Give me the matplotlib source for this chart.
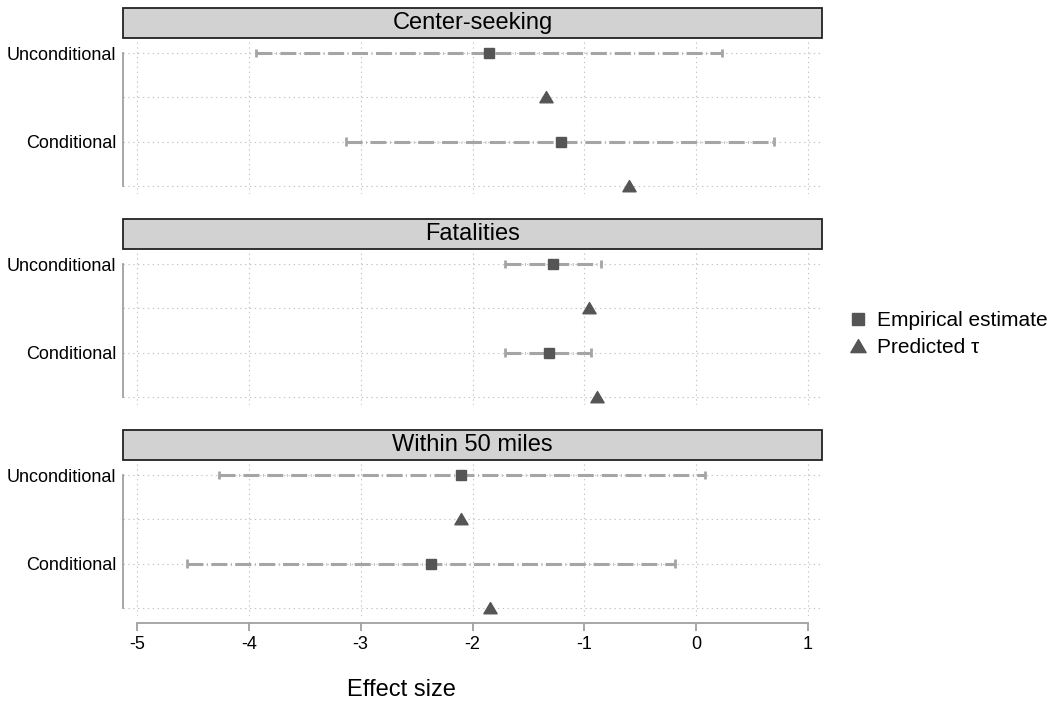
import matplotlib
matplotlib.use('Agg')
import matplotlib.pyplot as plt
from matplotlib.patches import Rectangle
from matplotlib.lines import Line2D
from matplotlib.path import Path

plt.rcParams['font.family'] = ['Liberation Sans', 'DejaVu Sans']
plt.rcParams['lines.scale_dashes'] = False

panels = ['Center-seeking', 'Fatalities', 'Within 50 miles']
row_labels = ['Unconditional', 'Conditional']

# empirical estimates and 95% CI (unconditional, conditional)
est = [[-1.85, -1.21], [-1.28, -1.32], [-2.10, -2.37]]
lo = [[-3.94, -3.13], [-1.71, -1.71], [-4.27, -4.55]]
hi = [[0.23, 0.70], [-0.85, -0.94], [0.08, -0.19]]
# predicted tau
pred = [[-1.34, -0.60], [-0.96, -0.89], [-2.10, -1.84]]

xticks = [-5, -4, -3, -2, -1, 0, 1]

W, H = 1055, 703
fig = plt.figure(figsize=(W / 100, H / 100), dpi=100)

ci_col = '#a5a5a5'
mk_col = '#555555'
grid_col = '#c4c4c4'
dash = (0, (11.5, 2.6, 0.5, 2.6))
tri = Path([(-1, -0.8), (1, -0.8), (0, 0.9), (-1, -0.8)],
           [Path.MOVETO, Path.LINETO, Path.LINETO, Path.CLOSEPOLY])

left_px, right_px = 123, 822
tops = [38, 249, 460]
ax_h = 156
box_h = 30

for p in range(3):
    ax = fig.add_axes([left_px / W, 1 - (tops[p] + ax_h) / H,
                       (right_px - left_px) / W, ax_h / H])
    ax.set_xlim(-5.125, 1.125)
    ax.set_ylim(3.18, -0.34)
    for g in [0, 1, 2, 3]:
        ax.axhline(g, color=grid_col, lw=0.8, ls=(0, (1, 2.5)), zorder=0)
    for xt in xticks:
        ax.axvline(xt, color=grid_col, lw=0.8, ls=(0, (1, 2.5)), zorder=0)
    for k in range(2):
        y = 2 * k
        ax.plot([lo[p][k], hi[p][k]], [y, y], color=ci_col, lw=2.2,
                ls=dash, zorder=2, dash_capstyle='butt')
        for xe in (lo[p][k], hi[p][k]):
            ax.plot([xe, xe], [y - 0.1, y + 0.1], color=ci_col, lw=2.0,
                    solid_capstyle='butt', zorder=2)
        ax.plot(est[p][k], y, marker='s', ms=7.8, color=mk_col, ls='none', zorder=3)
        ax.plot(pred[p][k], y + 1, marker=tri, ms=9.5, color=mk_col, ls='none', zorder=3)

    ax.set_yticks([0, 2])
    ax.set_yticklabels(row_labels, fontsize=13)
    ax.tick_params(axis='y', length=0, pad=5)
    for s in ['top', 'right']:
        ax.spines[s].set_visible(False)
    ax.spines['left'].set_color('#a0a0a0')
    ax.spines['left'].set_linewidth(1.3)
    ax.spines['left'].set_bounds(0, 3)

    if p < 2:
        ax.spines['bottom'].set_visible(False)
        ax.set_xticks(xticks)
        ax.tick_params(axis='x', length=0, labelbottom=False)
    else:
        ax.spines['bottom'].set_position(('outward', 5))
        ax.spines['bottom'].set_color('#a0a0a0')
        ax.spines['bottom'].set_linewidth(1.3)
        ax.spines['bottom'].set_bounds(-5, 1)
        ax.set_xticks(xticks)
        ax.set_xticklabels([str(t) for t in xticks], fontsize=13)
        ax.tick_params(axis='x', length=5.5, width=1.3, color='#a0a0a0', pad=4)

    bh = box_h / ax_h
    ax.add_patch(Rectangle((0, 1), 1, bh, transform=ax.transAxes,
                           facecolor='#d2d2d2', edgecolor='#222222', lw=1.3,
                           clip_on=False, zorder=5))
    ax.text(0.5, 1 + bh / 2, panels[p], transform=ax.transAxes, ha='center',
            va='center', fontsize=17, zorder=6)

fig.text(401 / W, 1 - 690 / H, 'Effect size', ha='center', va='center', fontsize=17)

handles = [Line2D([], [], marker='s', ms=9, color=mk_col, ls='none'),
           Line2D([], [], marker=tri, ms=11, color=mk_col, ls='none')]
fig.legend(handles, ['Empirical estimate', 'Predicted τ'], loc='center left',
           bbox_to_anchor=(827 / W, 1 - 334 / H), frameon=False, fontsize=15,
           handletextpad=0.3, labelspacing=0.4, handlelength=1.2)

fig.savefig('out.png', dpi=100)
